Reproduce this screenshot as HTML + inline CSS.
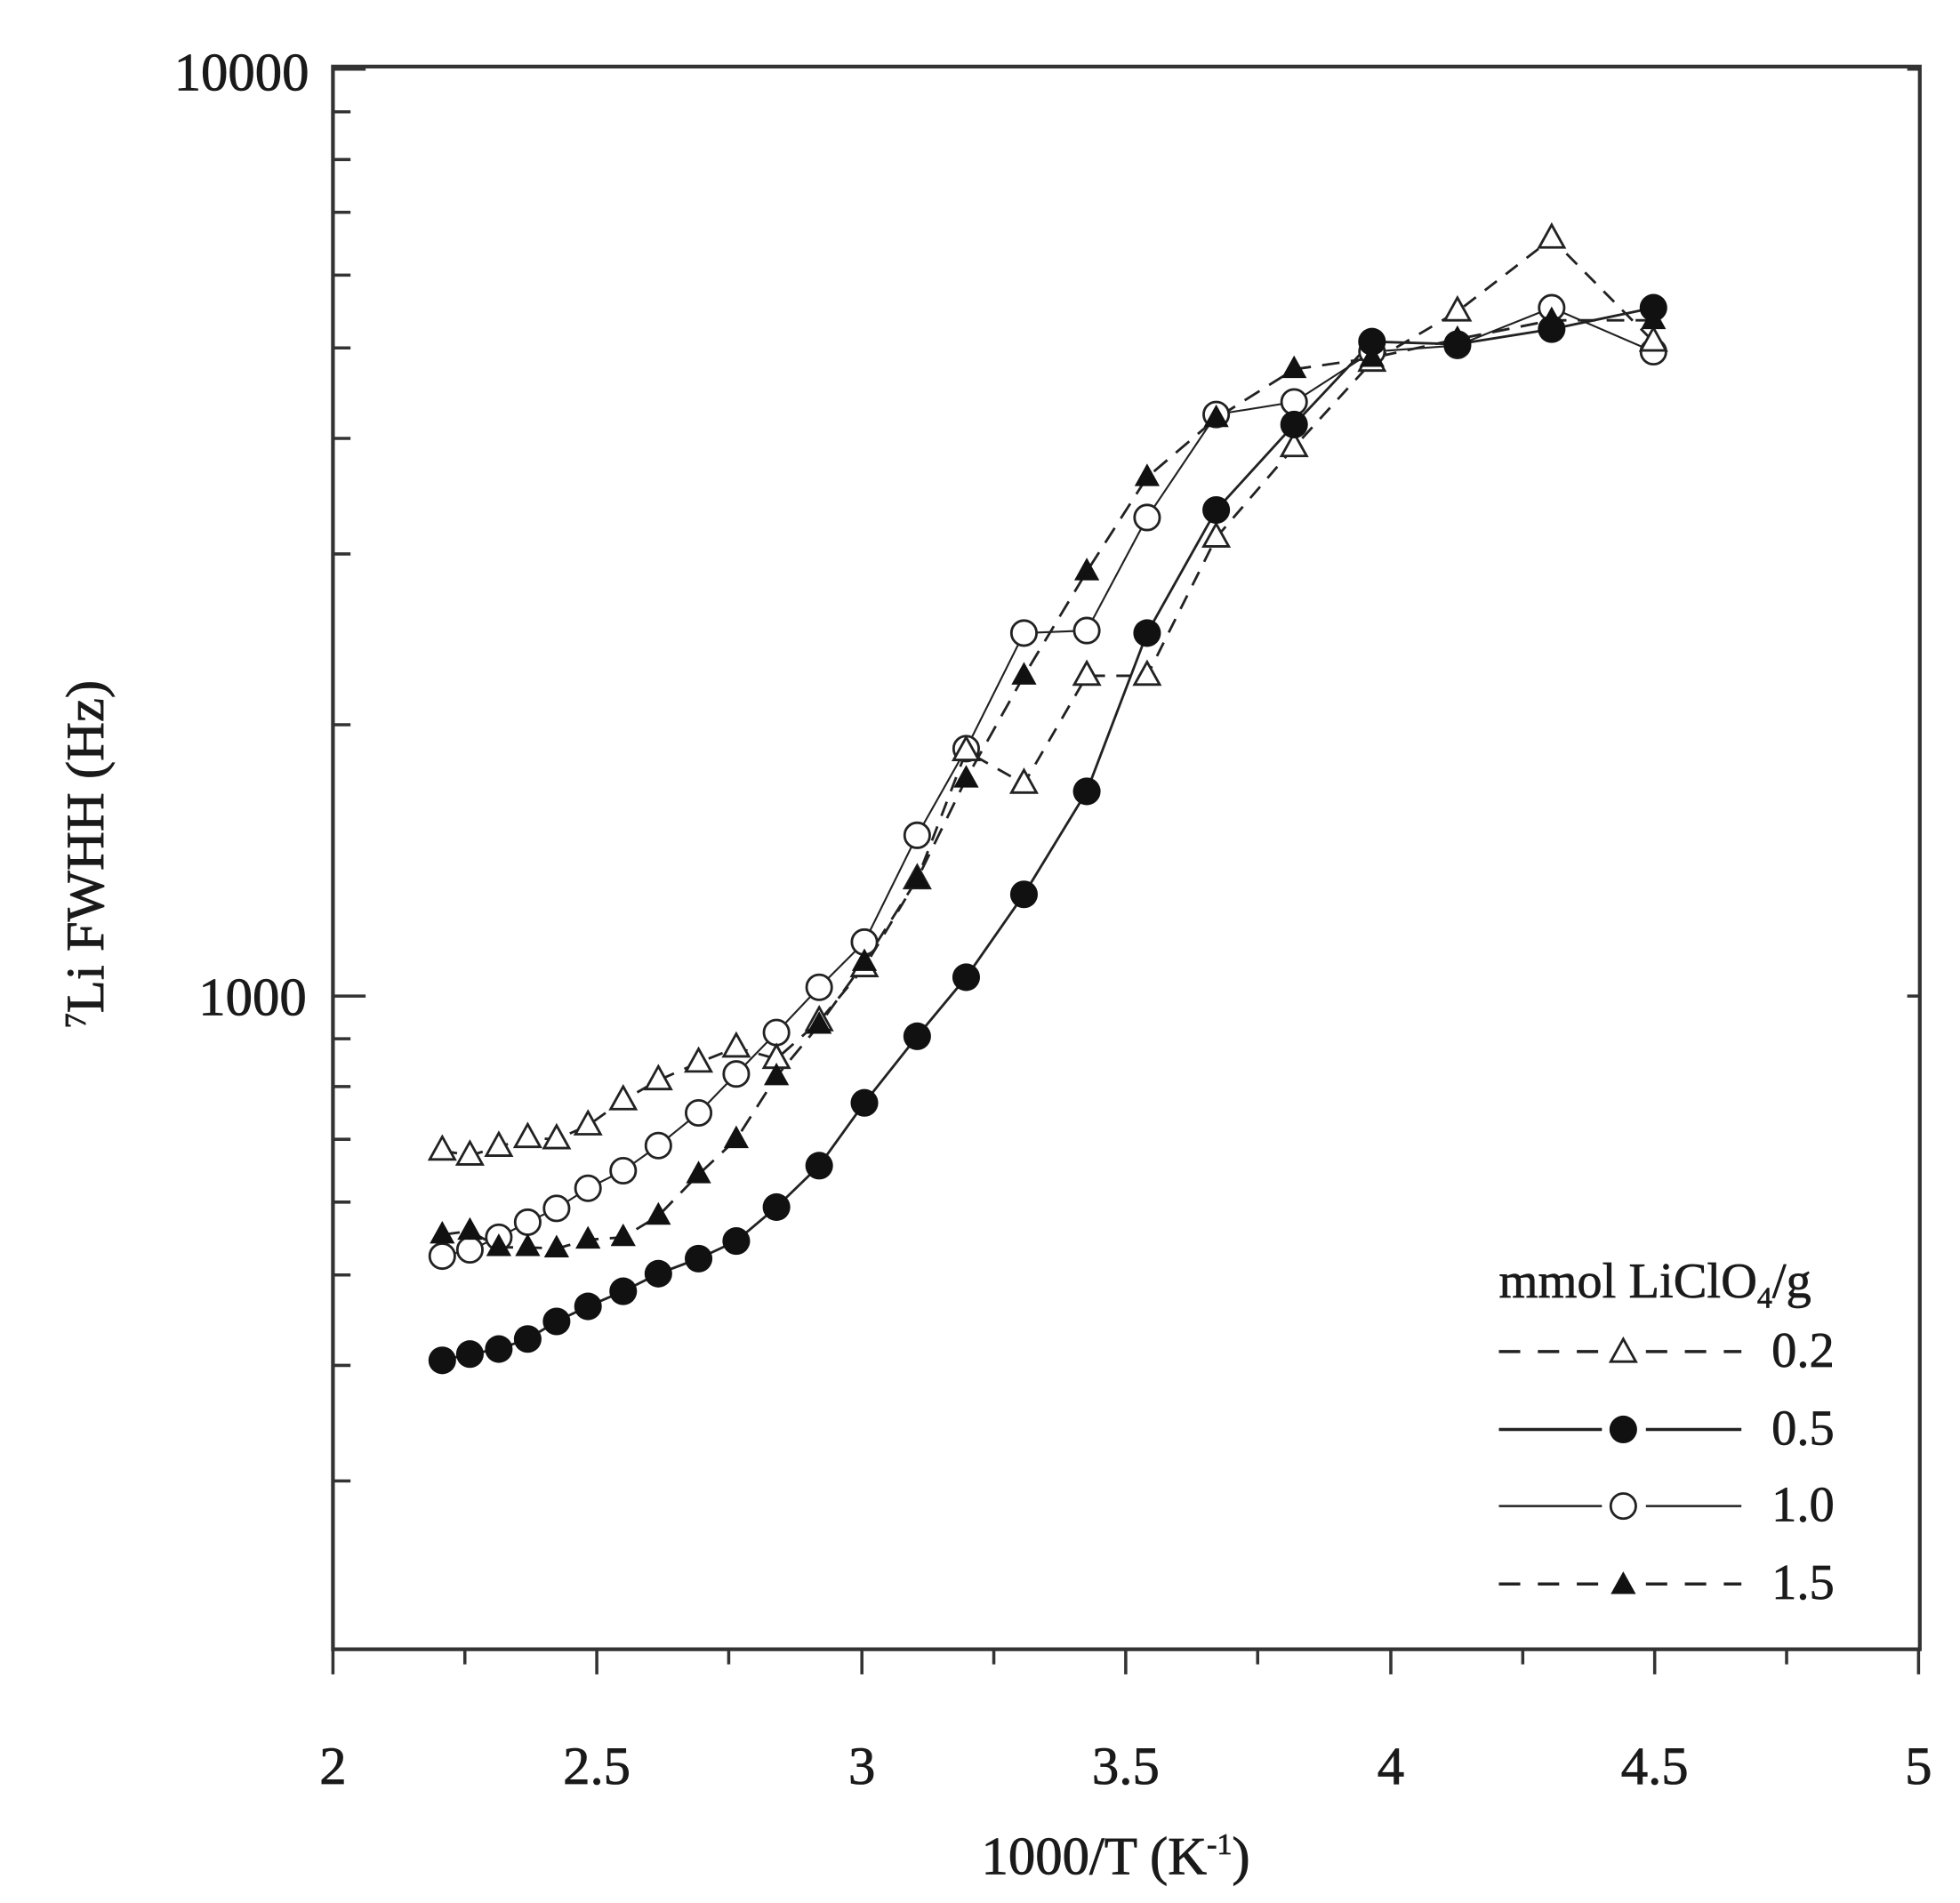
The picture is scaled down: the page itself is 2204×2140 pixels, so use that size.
<!DOCTYPE html>
<html><head><style>html,body{margin:0;padding:0;background:#fff}svg{display:block}</style></head><body>
<svg width="2204" height="2140" viewBox="0 0 1560 1515" preserveAspectRatio="none" xmlns="http://www.w3.org/2000/svg" font-family="Liberation Serif, serif">
<rect x="0" y="0" width="1560" height="1515" fill="#fff"/>
<rect x="265" y="53" width="1263" height="1260" fill="none" stroke="#333" stroke-width="3"/>
<g stroke="#333" stroke-width="2.5">
<path d="M265 55h26M265 793h26M265 89h14M265 127h14M265 169h14M265 219h14M265 277h14M265 349h14M265 441h14M265 577h14M265 827h14M265 865h14M265 907h14M265 957h14M265 1015h14M265 1087h14M265 1179h14"/>
<path d="M1528 55h-10M1528 793h-10"/>
<path d="M265 1313v20M475 1313v20M686 1313v20M896 1313v20M1107 1313v20M1317 1313v20M1527 1313v20M370 1313v12M580 1313v12M791 1313v12M1001 1313v12M1212 1313v12M1422 1313v12"/>
</g>
<g font-size="43" fill="#1a1a1a" stroke="#1a1a1a" stroke-width="0.6">
<text x="246" y="72" text-anchor="end">10000</text>
<text x="244" y="808" text-anchor="end">1000</text>
<g text-anchor="middle">
<text x="265" y="1420">2</text><text x="475" y="1420">2.5</text><text x="686" y="1420">3</text><text x="896" y="1420">3.5</text><text x="1107" y="1420">4</text><text x="1317" y="1420">4.5</text><text x="1527" y="1420">5</text>
<text x="888" y="1492">1000/T (K<tspan font-size="24" dy="-16">-1</tspan><tspan dy="16">)</tspan></text>
</g>
<text transform="translate(82,680) rotate(-90)" text-anchor="middle"><tspan font-size="24" dy="-14">7</tspan><tspan dy="14">Li FWHH (Hz)</tspan></text>
</g>
<g fill="none" stroke="#222" stroke-width="2">
<polyline stroke-dasharray="12,9" points="352,916 374,920 397,913 420,906 443,907 468,896 496,876 524,860 556,846 586,834 618,843 652,813 688,770 730,700 769,598 815,624 865,538 913,538 968,428 1030,356 1092,288 1160,248 1235,190 1316,272"/>
<polyline points="352,1083 374,1078 397,1074 420,1066 443,1052 468,1040 496,1028 524,1014 556,1002 586,988 618,961 652,928 688,878 730,825 769,778 815,712 865,630 913,504 968,406 1030,338 1092,272 1160,274 1235,262 1316,245"/>
<polyline stroke-width="1.5" points="352,1000 374,995 397,985 420,973 443,962 468,946 496,932 524,912 556,886 586,855 618,822 652,786 688,750 730,665 769,596 815,504 865,502 913,412 968,330 1030,320 1092,280 1160,275 1235,245 1316,280"/>
<polyline stroke-dasharray="14,9" points="352,983 374,980 397,993 420,993 443,994 468,987 496,985 524,968 556,935 586,907 618,857 652,816 688,766 730,700 769,620 815,538 865,455 913,380 968,333 1030,294 1092,285 1160,270 1235,255 1316,255"/>
</g>
<defs>
<path id="tri" d="M0,-11 L10,7 L-10,7 Z"/>
</defs>
<g fill="#fff" stroke="#222" stroke-width="2">
<circle cx="352" cy="1000" r="10"/><circle cx="374" cy="995" r="10"/><circle cx="397" cy="985" r="10"/><circle cx="420" cy="973" r="10"/><circle cx="443" cy="962" r="10"/><circle cx="468" cy="946" r="10"/><circle cx="496" cy="932" r="10"/><circle cx="524" cy="912" r="10"/><circle cx="556" cy="886" r="10"/><circle cx="586" cy="855" r="10"/><circle cx="618" cy="822" r="10"/><circle cx="652" cy="786" r="10"/><circle cx="688" cy="750" r="10"/><circle cx="730" cy="665" r="10"/><circle cx="769" cy="596" r="10"/><circle cx="815" cy="504" r="10"/><circle cx="865" cy="502" r="10"/><circle cx="913" cy="412" r="10"/><circle cx="968" cy="330" r="10"/><circle cx="1030" cy="320" r="10"/><circle cx="1092" cy="280" r="10"/><circle cx="1160" cy="275" r="10"/><circle cx="1235" cy="245" r="10"/><circle cx="1316" cy="280" r="10"/>
</g>
<g fill="#fff" stroke="#222" stroke-width="2">
<use href="#tri" x="352" y="916"/><use href="#tri" x="374" y="920"/><use href="#tri" x="397" y="913"/><use href="#tri" x="420" y="906"/><use href="#tri" x="443" y="907"/><use href="#tri" x="468" y="896"/><use href="#tri" x="496" y="876"/><use href="#tri" x="524" y="860"/><use href="#tri" x="556" y="846"/><use href="#tri" x="586" y="834"/><use href="#tri" x="618" y="843"/><use href="#tri" x="652" y="813"/><use href="#tri" x="688" y="770"/><use href="#tri" x="730" y="700"/><use href="#tri" x="769" y="598"/><use href="#tri" x="815" y="624"/><use href="#tri" x="865" y="538"/><use href="#tri" x="913" y="538"/><use href="#tri" x="968" y="428"/><use href="#tri" x="1030" y="356"/><use href="#tri" x="1092" y="288"/><use href="#tri" x="1160" y="248"/><use href="#tri" x="1235" y="190"/><use href="#tri" x="1316" y="272"/>
</g>
<g fill="#111">
<circle cx="352" cy="1083" r="11"/><circle cx="374" cy="1078" r="11"/><circle cx="397" cy="1074" r="11"/><circle cx="420" cy="1066" r="11"/><circle cx="443" cy="1052" r="11"/><circle cx="468" cy="1040" r="11"/><circle cx="496" cy="1028" r="11"/><circle cx="524" cy="1014" r="11"/><circle cx="556" cy="1002" r="11"/><circle cx="586" cy="988" r="11"/><circle cx="618" cy="961" r="11"/><circle cx="652" cy="928" r="11"/><circle cx="688" cy="878" r="11"/><circle cx="730" cy="825" r="11"/><circle cx="769" cy="778" r="11"/><circle cx="815" cy="712" r="11"/><circle cx="865" cy="630" r="11"/><circle cx="913" cy="504" r="11"/><circle cx="968" cy="406" r="11"/><circle cx="1030" cy="338" r="11"/><circle cx="1092" cy="272" r="11"/><circle cx="1160" cy="274" r="11"/><circle cx="1235" cy="262" r="11"/><circle cx="1316" cy="245" r="11"/>
</g>
<g fill="#111">
<use href="#tri" x="352" y="983"/><use href="#tri" x="374" y="980"/><use href="#tri" x="397" y="993"/><use href="#tri" x="420" y="993"/><use href="#tri" x="443" y="994"/><use href="#tri" x="468" y="987"/><use href="#tri" x="496" y="985"/><use href="#tri" x="524" y="968"/><use href="#tri" x="556" y="935"/><use href="#tri" x="586" y="907"/><use href="#tri" x="618" y="857"/><use href="#tri" x="652" y="816"/><use href="#tri" x="688" y="766"/><use href="#tri" x="730" y="700"/><use href="#tri" x="769" y="620"/><use href="#tri" x="815" y="538"/><use href="#tri" x="865" y="455"/><use href="#tri" x="913" y="380"/><use href="#tri" x="968" y="333"/><use href="#tri" x="1030" y="294"/><use href="#tri" x="1092" y="285"/><use href="#tri" x="1160" y="270"/><use href="#tri" x="1235" y="255"/><use href="#tri" x="1316" y="255"/>
</g>
<g font-size="40" fill="#1a1a1a" stroke="#1a1a1a" stroke-width="0.5">
<text x="1193" y="1033">mmol LiClO<tspan font-size="24" dy="8">4</tspan><tspan dy="-8">/g</tspan></text>
<text x="1410" y="1088">0.2</text><text x="1410" y="1150">0.5</text><text x="1410" y="1211">1.0</text><text x="1410" y="1273">1.5</text>
</g>
<g stroke="#222" stroke-width="2.5" fill="none">
<path stroke-dasharray="17,14" d="M1193 1076h82M1310 1076h76"/>
<path d="M1193 1138h82M1310 1138h76"/>
<path stroke-width="1.8" d="M1193 1199h82M1310 1199h76"/>
<path stroke-dasharray="17,14" d="M1193 1261h82M1310 1261h76"/>
</g>
<use href="#tri" x="1292" y="1077" fill="#fff" stroke="#222" stroke-width="2"/>
<circle cx="1292" cy="1138" r="11" fill="#111"/>
<circle cx="1292" cy="1199" r="10" fill="#fff" stroke="#222" stroke-width="2"/>
<use href="#tri" x="1292" y="1262" fill="#111"/>
</svg>
</body></html>
